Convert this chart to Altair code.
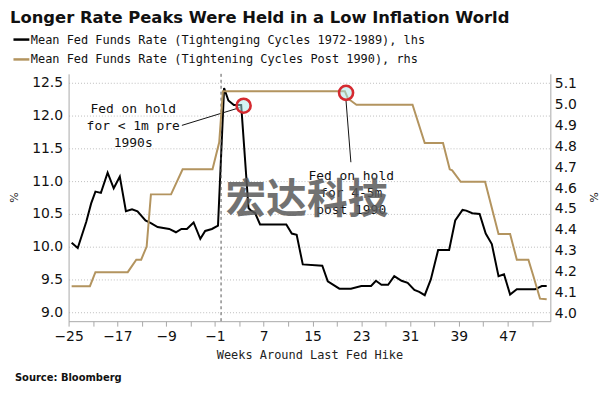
import altair as alt
import pandas as pd

S1 = "Mean Fed Funds Rate (Tightenging Cycles 1972-1989), lhs"
S2 = "Mean Fed Funds Rate (Tightening Cycles Post 1990), rhs"

black_weeks = [-24.5, -23.5, -22.1, -21.3, -20.6, -19.7, -18.6, -17.6, -16.6, -15.6,
               -14.6, -13.7, -12.4, -11.5, -10.4, -8.5, -7.4, -6.5, -5.6, -4.5,
               -3.4, -2.6, -1.5, -0.5, 0.5, 1.2, 2.1, 3.3, 4.5, 4.8,
               5.6, 6.4, 10.7, 11.6, 12.4, 13.4, 16.6, 17.5, 19.4, 21.3,
               23.0, 24.6, 25.4, 26.3, 27.4, 28.4, 29.6, 30.6, 31.7, 32.5,
               33.4, 34.4, 35.6, 37.4, 38.4, 39.6, 40.2, 41.2, 42.4, 43.4,
               44.4, 45.5, 46.4, 47.4, 48.5, 51.5, 52.6, 53.4]
black_rates = [10.06, 9.98, 10.38, 10.66, 10.84, 10.82, 11.13, 10.89, 11.07, 10.54,
               10.57, 10.54, 10.40, 10.36, 10.30, 10.27, 10.22, 10.27, 10.27, 10.37,
               10.12, 10.24, 10.27, 10.32, 12.42, 12.23, 12.16, 12.16, 10.59, 10.56,
               10.51, 10.34, 10.34, 10.20, 10.18, 9.73, 9.71, 9.47, 9.36, 9.36,
               9.40, 9.40, 9.48, 9.42, 9.42, 9.55, 9.48, 9.45, 9.34, 9.31,
               9.26, 9.50, 9.95, 9.95, 10.40, 10.56, 10.55, 10.51, 10.50, 10.20,
               10.04, 9.55, 9.58, 9.27, 9.35, 9.35, 9.40, 9.40]

gold_weeks = [-24.5, -21.5, -20.6, -15.3, -13.9, -13.1, -12.2, -11.5, -8.2, -6.3,
              -1.4, -0.3, 0.3, 20.3, 20.8, 22.2, 31.4, 33.4, 36.4, 37.5,
              37.9, 39.3, 43.3, 45.5, 47.4, 48.5, 50.4, 51.2, 52.3, 53.4]
gold_rates = [4.13, 4.13, 4.197, 4.197, 4.257, 4.257, 4.32, 4.57, 4.57, 4.69,
              4.69, 4.82, 5.065, 5.065, 5.03, 5.00, 5.00, 4.816, 4.816, 4.69,
              4.685, 4.63, 4.63, 4.38, 4.38, 4.257, 4.257, 4.18, 4.07, 4.067]

note1_lines = ["Fed on hold", "for < 1m pre", "1990s"]
note1_weeks = [-14.4, -14.4, -14.4]
note1_rates = [12.098, 11.841, 11.583]

note2_lines = ["Fed on hold", "for 4-5m", "post 1990"]
note2_weeks = [21.34, 21.34, 21.34]
note2_rates = [11.076, 10.818, 10.561]

x_ticks = list(range(-25, 55, 4))
left_ticks = [9.0, 9.5, 10.0, 10.5, 11.0, 11.5, 12.0, 12.5]
right_ticks = [4.0, 4.1, 4.2, 4.3, 4.4, 4.5, 4.6, 4.7, 4.8, 4.9, 5.0, 5.1]

MONO = "DejaVu Sans Mono"
SANS = "DejaVu Sans"
GOLD = "#b3945f"
RED = "#d52a30"

df_black = pd.DataFrame({"week": black_weeks, "rate": black_rates, "series": S1})
df_gold = pd.DataFrame({"week": gold_weeks, "rate": gold_rates, "series": S2})
df_n1 = pd.DataFrame({"week": note1_weeks, "rate": note1_rates, "label": note1_lines})
df_n2 = pd.DataFrame({"week": note2_weeks, "rate": note2_rates, "label": note2_lines})
df_zero = pd.DataFrame({"week": [0]})
df_c1 = pd.DataFrame({"week": [3.7], "rate": [12.15]})
df_c2 = pd.DataFrame({"week": [20.5], "rate": [5.057]})
df_conn = pd.DataFrame({"week": [-6.42, 20.48], "week2": [3.04, 21.29],
                        "rate": [11.85, 12.242], "rate2": [12.12, 11.288]})
df_wm = pd.DataFrame({"week": [14.1], "rate": [10.70], "label": ["宏达科技"]})
df_src = pd.DataFrame({"label": ["Source: Bloomberg"]})

x_scale = alt.Scale(domain=[-25, 54], nice=False, zero=False)
yl_scale = alt.Scale(domain=[8.864, 12.636], nice=False, zero=False)
yr_scale = alt.Scale(domain=[3.962, 5.148], nice=False, zero=False)

x_axis = alt.Axis(values=x_ticks, labelExpr="(datum.value + 25) % 8 == 0 ? datum.label : ''",
                  format="d", grid=False, ticks=True, tickSize=5, labelPadding=3,
                  labelFlush=False, labelOverlap=False,
                  title="Weeks Around Last Fed Hike", titleFont=MONO, titleFontSize=12,
                  titleFontWeight="normal", titlePadding=7, titleColor="#222222")
yl_axis = alt.Axis(values=left_ticks, format=".1f", grid=True, gridDash=[1, 2],
                   gridColor="#bdbdbd", ticks=False, labelPadding=6, orient="left",
                   title="%", titleFontSize=11, titleFontWeight="normal",
                   titleX=-54, titleY=124, titleAlign="center", titleBaseline="middle")
yr_axis = alt.Axis(values=right_ticks, format=".1f", grid=False, ticks=False,
                   labelPadding=4, orient="right",
                   title="%", titleFontSize=11, titleFontWeight="normal",
                   titleX=42, titleY=124, titleAlign="center", titleBaseline="middle")

X = alt.X("week:Q", scale=x_scale, axis=x_axis)
YL = alt.Y("rate:Q", scale=yl_scale, axis=yl_axis)
YR = alt.Y("rate:Q", scale=yr_scale, axis=yr_axis)

color = alt.Color("series:N",
                  scale=alt.Scale(domain=[S1, S2], range=["#000000", GOLD]),
                  legend=alt.Legend(title=None, orient="none", legendX=-57, legendY=-44,
                                    symbolType="stroke", symbolSize=256,
                                    symbolStrokeWidth=2.5, labelFont=MONO,
                                    labelFontSize=12, labelColor="#111111",
                                    labelLimit=600, rowPadding=4, labelOffset=0,
                                    padding=0))

black = alt.Chart(df_black).mark_line(strokeWidth=2).encode(x=X, y=YL, color=color)
zero = alt.Chart(df_zero).mark_rule(color="#555555", strokeDash=[3, 3], strokeWidth=1).encode(x=X)
c1 = alt.Chart(df_c1).mark_point(shape="circle", size=200, filled=True, fill="#a8e8ea",
                                 fillOpacity=0.5, stroke=RED, strokeWidth=2.6,
                                 opacity=1).encode(x=X, y=YL)
conn = alt.Chart(df_conn).mark_rule(color="#111111", strokeWidth=1).encode(
    x=X, x2="week2:Q", y=YL, y2="rate2:Q")
n1 = alt.Chart(df_n1).mark_text(font=MONO, fontSize=13, color="#111111",
                                align="center", baseline="middle").encode(
    x=X, y=YL, text="label:N")
n2 = alt.Chart(df_n2).mark_text(font=MONO, fontSize=13, color="#111111",
                                align="center", baseline="middle").encode(
    x=X, y=YL, text="label:N")
wm = alt.Chart(df_wm).mark_text(font="Noto Sans CJK SC", fontSize=41, fontWeight="bold",
                                color="#5a5a5a", opacity=0.85,
                                align="center", baseline="middle").encode(
    x=X, y=YL, text="label:N")
src = alt.Chart(df_src).mark_text(font=SANS, fontSize=10, fontWeight="bold",
                                  color="#111111", align="left", baseline="middle").encode(
    x=alt.value(-54), y=alt.value(306), text="label:N")

gold = alt.Chart(df_gold).mark_line(strokeWidth=2).encode(x=X, y=YR, color=color)
c2 = alt.Chart(df_c2).mark_point(shape="circle", size=200, filled=True, fill="#a8e8ea",
                                 fillOpacity=0.5, stroke=RED, strokeWidth=2.6,
                                 opacity=1).encode(x=X, y=YR)

left = alt.layer(black, zero, conn, n1, n2, c1, wm, src)
right = alt.layer(gold, c2)

chart = alt.layer(left, right).resolve_scale(y="independent").properties(
    width=485, height=249,
    autosize=alt.AutoSizeParams(type="none"),
    padding={"left": 61, "top": 65, "right": 53, "bottom": 67},
    title=alt.TitleParams("Longer Rate Peaks Were Held in a Low Inflation World",
                          anchor="start", frame="group", dx=-59, dy=4, font=SANS,
                          fontSize=16.5, fontWeight="bold", color="#111111",
                          baseline="top", offset=8),
).configure_view(strokeWidth=0).configure_axis(
    labelFont=SANS, labelFontSize=14, labelColor="#111111",
    domainColor="#a8a8a8", tickColor="#a8a8a8", titleFont=SANS, titleColor="#222222",
)

chart.save("out.html", embed_options={"renderer": "svg", "actions": False})
